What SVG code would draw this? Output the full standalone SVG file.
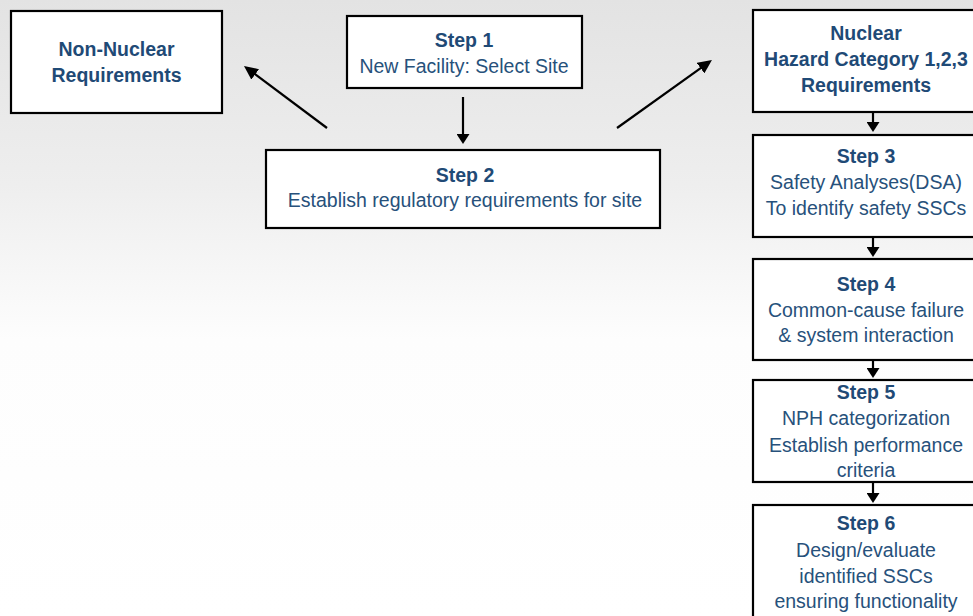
<svg xmlns="http://www.w3.org/2000/svg" width="973" height="616" viewBox="0 0 973 616">
  <defs>
    <linearGradient id="bg" x1="0" y1="0" x2="0" y2="1">
      <stop offset="0" stop-color="#e3e3e3"/>
      <stop offset="0.3" stop-color="#eeeeee"/>
      <stop offset="0.55" stop-color="#fdfdfd"/>
      <stop offset="1" stop-color="#ffffff"/>
    </linearGradient>
    <marker id="ah" viewBox="0 0 14 13" markerWidth="14" markerHeight="13" refX="10" refY="6.5" orient="auto" markerUnits="userSpaceOnUse">
      <path d="M0,0 L14,6.5 L0,13 z" fill="#000"/>
    </marker>
    <marker id="ahs" viewBox="0 0 10 13" markerWidth="10" markerHeight="13" refX="7" refY="6.5" orient="auto" markerUnits="userSpaceOnUse">
      <path d="M0,0 L10,6.5 L0,13 z" fill="#000"/>
    </marker>
  </defs>
  <style>
    .box { fill: #ffffff; stroke: #000000; stroke-width: 2.2; }
    .t { font-family: "Liberation Sans", Arial, sans-serif; font-size: 19.5px; fill: #27517b; text-anchor: middle; }
    .b { font-weight: bold; fill: #1f4a76; }
    .c { stroke: #000000; stroke-width: 2.2; fill: none; }
  </style>
  <rect x="0" y="0" width="973" height="616" fill="url(#bg)"/>

  <g id="connectors">
    <line class="c" x1="463" y1="97" x2="463" y2="141" marker-end="url(#ahs)"/>
    <line class="c" x1="327" y1="128" x2="247.2" y2="68.4" marker-end="url(#ah)"/>
    <line class="c" x1="617" y1="128" x2="708.7" y2="62.3" marker-end="url(#ah)"/>
    <line class="c" x1="873" y1="112" x2="873" y2="129" marker-end="url(#ahs)"/>
    <line class="c" x1="873" y1="237" x2="873" y2="254" marker-end="url(#ahs)"/>
    <line class="c" x1="873" y1="360" x2="873" y2="375" marker-end="url(#ahs)"/>
    <line class="c" x1="873" y1="482" x2="873" y2="500" marker-end="url(#ahs)"/>
  </g>

  <g id="non-nuclear">
    <rect class="box" x="11" y="11" width="211" height="102"/>
    <text class="t b" x="116.5" y="56">Non-Nuclear</text>
    <text class="t b" x="116.5" y="82">Requirements</text>
  </g>

  <g id="step1">
    <rect class="box" x="347" y="16" width="235" height="72"/>
    <text class="t b" x="464" y="47">Step 1</text>
    <text class="t" x="464" y="73">New Facility: Select Site</text>
  </g>

  <g id="step2">
    <rect class="box" x="266" y="150" width="394" height="78"/>
    <text class="t b" x="465" y="182">Step 2</text>
    <text class="t" x="465" y="207">Establish regulatory requirements for site</text>
  </g>

  <g id="nuclear">
    <rect class="box" x="753" y="10" width="240" height="102"/>
    <text class="t b" x="866" y="40">Nuclear</text>
    <text class="t b" x="866" y="66">Hazard Category 1,2,3</text>
    <text class="t b" x="866" y="92">Requirements</text>
  </g>

  <g id="step3">
    <rect class="box" x="753" y="135" width="240" height="102"/>
    <text class="t b" x="866" y="163">Step 3</text>
    <text class="t" x="866" y="189">Safety Analyses(DSA)</text>
    <text class="t" x="866" y="215">To identify safety SSCs</text>
  </g>

  <g id="step4">
    <rect class="box" x="753" y="259" width="240" height="101"/>
    <text class="t b" x="866" y="291">Step 4</text>
    <text class="t" x="866" y="317">Common-cause failure</text>
    <text class="t" x="866" y="342">&amp; system interaction</text>
  </g>

  <g id="step5">
    <rect class="box" x="753" y="380" width="240" height="102"/>
    <text class="t b" x="866" y="399">Step 5</text>
    <text class="t" x="866" y="425">NPH categorization</text>
    <text class="t" x="866" y="452">Establish performance</text>
    <text class="t" x="866" y="477">criteria</text>
  </g>

  <g id="step6">
    <rect class="box" x="753" y="505" width="240" height="130"/>
    <text class="t b" x="866" y="530">Step 6</text>
    <text class="t" x="866" y="557">Design/evaluate</text>
    <text class="t" x="866" y="583">identified SSCs</text>
    <text class="t" x="866" y="608">ensuring functionality</text>
  </g>
</svg>
